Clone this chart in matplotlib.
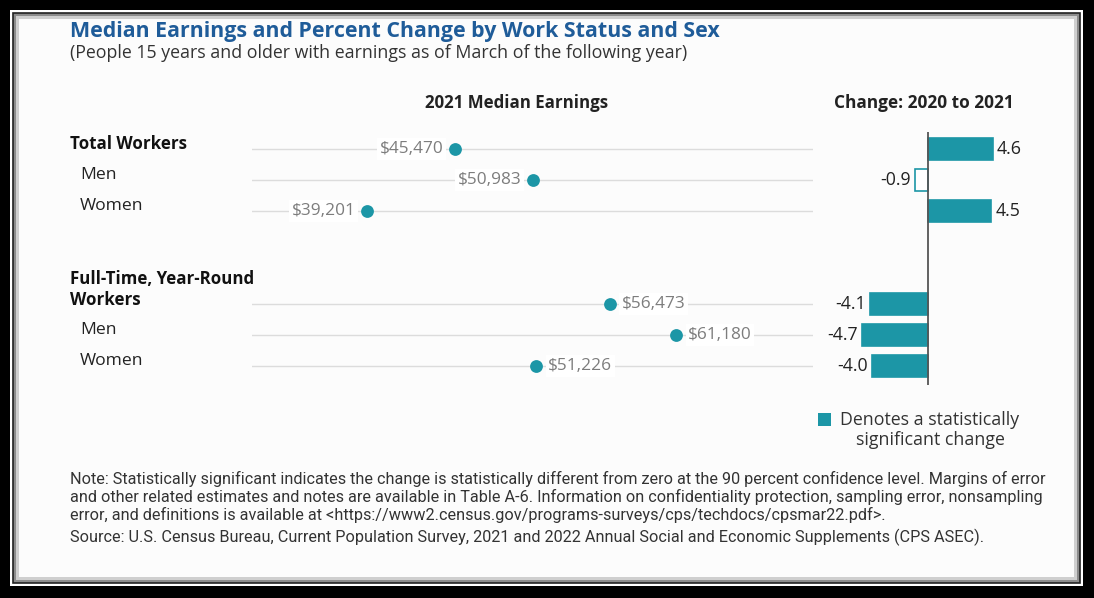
import matplotlib.pyplot as plt
from matplotlib.patches import Rectangle

plt.rcParams['font.family'] = ['Open Sans', 'DejaVu Sans']

# data
group_names = ["Total Workers", "Full-Time, Year-Round\nWorkers"]
sub_names = ["Men", "Women"]
earnings = [45470, 50983, 39201, 56473, 61180, 51226]
changes = [4.6, -0.9, 4.5, -4.1, -4.7, -4.0]
significant = [True, False, True, True, True, True]

title = "Median Earnings and Percent Change by Work Status and Sex"
subtitle = "(People 15 years and older with earnings as of March of the following year)"
note = ("Note: Statistically significant indicates the change is statistically different from zero at the 90 percent confidence level. Margins of error\n"
        "and other related estimates and notes are available in Table A-6. Information on confidentiality protection, sampling error, nonsampling\n"
        "error, and definitions is available at <https://www2.census.gov/programs-surveys/cps/techdocs/cpsmar22.pdf>.")
source = "Source: U.S. Census Bureau, Current Population Survey, 2021 and 2022 Annual Social and Economic Supplements (CPS ASEC)."

TEAL = "#1c96a6"
W, H = 1094, 598

# each group: header row + 2 sub rows, groups separated by 2 blank rows
rows = [g * 5 + k for g in range(len(group_names)) for k in range(3)]

fig = plt.figure(figsize=(W / 100, H / 100), dpi=100, facecolor="black")


def px_axes(left, top, right, bottom):
    return fig.add_axes([left / W, 1 - bottom / H, (right - left) / W, (bottom - top) / H])


# background / frame in pixel coords
bg = fig.add_axes([0, 0, 1, 1])
bg.set_xlim(0, W)
bg.set_ylim(H, 0)
bg.axis("off")
bg.add_patch(Rectangle((10, 10), 1073, 576, facecolor="white", edgecolor="none"))
bg.add_patch(Rectangle((13, 13), 1067, 570, facecolor="#8c8c8c", edgecolor="#222222", lw=1.2))
bg.add_patch(Rectangle((16, 16), 1061, 564, facecolor="#cfcfcf", edgecolor="none"))
bg.add_patch(Rectangle((19, 19), 1055, 558, facecolor="#fcfcfc", edgecolor="none"))

bg.text(70, 32, title, fontsize=15.4, fontweight="bold", color="#1f5c99", va="center")
bg.text(70, 53, subtitle, fontsize=12.8, color="#333333", va="center")
bg.text(517, 103, "2021 Median Earnings", fontsize=12.2, fontweight="bold", color="#222222", ha="center", va="center")
bg.text(924, 103, "Change: 2020 to 2021", fontsize=12.4, fontweight="bold", color="#222222", ha="center", va="center")

# row labels
row_px = lambda r: 149 + 31 * r
for g, name in enumerate(group_names):
    r0 = rows[g * 3]
    lines = name.count("\n")
    bg.text(70, row_px(r0) - 5 - lines * 9.5, name, fontsize=12.2, fontweight="bold", color="#111111",
            va="center", linespacing=1.15)
    for k, sub in enumerate(sub_names):
        bg.text(80, row_px(rows[g * 3 + k + 1]) - 5, sub, fontsize=12.6, color="#222222", va="center")

# legend
bg.add_patch(Rectangle((818, 413), 13, 13, facecolor=TEAL, edgecolor="none"))
bg.text(930, 430, "Denotes a statistically\nsignificant change", fontsize=12.8, color="#333333",
        ha="center", va="center", multialignment="center", linespacing=1.2)

bg.text(70, 497, note, fontsize=11.7, color="#333333", va="center", linespacing=1.12, family="Roboto")
bg.text(70, 537, source, fontsize=11.7, color="#333333", va="center", family="Roboto")

# dot plot of median earnings
ax = px_axes(252, 130, 813, 390)
ax.set_xlim(31000, 70900)
ax.set_ylim((390 - 149) / 31, (130 - 149) / 31)
ax.axis("off")
for r in rows:
    ax.axhline(r, color="#dcdcdc", lw=1, zorder=1)
ax.scatter(earnings, rows, s=85, color=TEAL, zorder=3, linewidths=0)
for i, (v, r) in enumerate(zip(earnings, rows)):
    side = -1 if i < 3 else 1
    ax.annotate(f"${v:,}", (v, r), xytext=(side * 8.5, 0), textcoords="offset points",
                ha="right" if side < 0 else "left", va="center", fontsize=12.4, color="#7d7d7d",
                bbox=dict(boxstyle="square,pad=0.15", fc="white", ec="none"), zorder=2)

# bar chart of percent change
ax2 = px_axes(820, 132, 1060, 385)
ax2.set_xlim(-(928 - 820) / 14.1, (1060 - 928) / 14.1)
ax2.set_ylim((385 - 149) / 31, (132 - 149) / 31)
ax2.axis("off")
ax2.barh(rows, changes, height=0.74,
         color=[TEAL if s else "white" for s in significant],
         edgecolor=TEAL, linewidth=1.2, zorder=2)
ax2.axvline(0, color="#555555", lw=1.3, zorder=3)
for c, r in zip(changes, rows):
    ax2.annotate(f"{c:.1f}", (c, r), xytext=(3 if c > 0 else -3, 0), textcoords="offset points",
                 ha="left" if c > 0 else "right", va="center", fontsize=12.8, color="#222222")

fig.savefig("out.png", dpi=100, facecolor="black")
